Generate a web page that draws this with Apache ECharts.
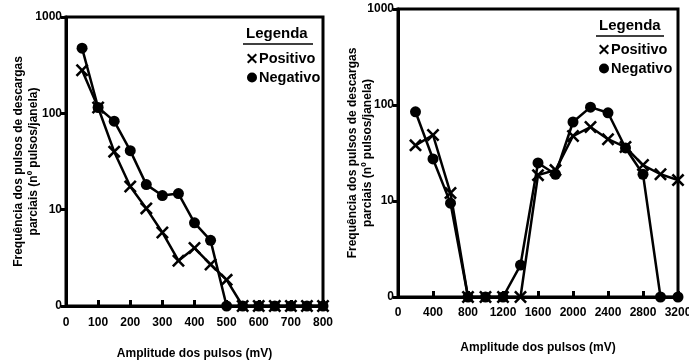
<!DOCTYPE html>
<html>
<head>
<meta charset="utf-8">
<script src="https://cdn.jsdelivr.net/npm/echarts@6/dist/echarts.min.js"></script>
<style>
  html, body { margin: 0; padding: 0; background: #fff; }
  #chart { width: 689px; height: 362px; }
</style>
</head>
<body>
<div id="chart"></div>
<script>
// painel esquerdo (0-800 mV)
var ampEsq = [50, 100, 150, 200, 250, 300, 350, 400, 450, 500, 550, 600, 650, 700, 750, 800];
var posEsq = [280, 115, 40, 17.4, 10.3, 5.8, 2.95, 4.0, 2.7, 1.87, 0, 0, 0, 0, 0, 0];
var negEsq = [475, 115, 83, 41, 18.2, 14, 14.7, 7.3, 4.8, 0, 0, 0, 0, 0, 0, 0];

// painel direito (0-3200 mV)
var ampDir = [200, 400, 600, 800, 1000, 1200, 1400, 1600, 1800, 2000, 2200, 2400, 2600, 2800, 3000, 3200];
var posDir = [38, 48.7, 12.1, 0, 0, 0, 0, 18.6, 21, 47.5, 59, 44, 36.5, 23.7, 19, 16.5];
var negDir = [85, 27.4, 9.5, 0, 0, 0, 2.15, 24.9, 19, 66.5, 95, 83, 35.7, 19, 0, 0];

var yTicks = [1, 10, 100, 1000];

var FONT = '"Liberation Sans", Arial, sans-serif';
var xSym = 'path://M0,1.4 L1.4,0 L5,3.6 L8.6,0 L10,1.4 L6.4,5 L10,8.6 L8.6,10 L5,6.4 L1.4,10 L0,8.6 L3.6,5 Z';

// zero desenhado na base da escala log (rotulada "0")
function pares(xs, ys) {
  return xs.map(function (x, i) { return [x, ys[i] === 0 ? 1 : ys[i]]; });
}

function eixoY(idx, gap) {
  return {
    type: 'log', gridIndex: idx, logBase: 10, min: 1, max: 1000,
    name: 'Frequência dos pulsos de descargas\nparciais (nº pulsos/janela)',
    nameLocation: 'middle', nameGap: gap, nameRotate: 90, nameMoveOverlap: false,
    nameTextStyle: { fontFamily: FONT, fontWeight: 'bold', fontSize: 12, color: '#000', lineHeight: 15 },
    axisLine: { show: true, lineStyle: { color: '#000', width: 3 } },
    axisTick: { show: true, inside: false, length: 5, lineStyle: { color: '#000', width: 3 } },
    minorTick: { show: false },
    splitLine: { show: false },
    axisLabel: {
      fontFamily: FONT, fontWeight: 'bold', fontSize: 12, color: '#000', margin: 4,
      formatter: function (v) { return v === yTicks[0] ? '0' : String(v); }
    }
  };
}

function eixoX(idx, max, intervalo, gap, margem) {
  return {
    type: 'value', gridIndex: idx, min: 0, max: max, interval: intervalo,
    name: 'Amplitude dos pulsos (mV)', nameLocation: 'middle', nameGap: gap, nameMoveOverlap: false,
    nameTextStyle: { fontFamily: FONT, fontWeight: 'bold', fontSize: 12, color: '#000' },
    axisLine: { show: true, onZero: false, lineStyle: { color: '#000', width: 3 } },
    axisTick: { show: true, inside: true, length: 6, lineStyle: { color: '#000', width: 3 } },
    splitLine: { show: false },
    axisLabel: {
      fontFamily: FONT, fontWeight: 'bold', fontSize: 12, color: '#000', margin: margem, showMaxLabel: true,
      formatter: function (v) { return String(v); }
    }
  };
}

function serie(nome, idx, dados) {
  var pos = nome === 'Positivo';
  return {
    name: nome, type: 'line', xAxisIndex: idx, yAxisIndex: idx,
    data: dados,
    symbol: pos ? xSym : 'circle',
    symbolSize: pos ? 13 : 11,
    lineStyle: { color: '#000', width: 2.5 },
    itemStyle: { color: '#000' },
    clip: false,
    animation: false
  };
}

function legenda(left, top) {
  return {
    orient: 'vertical', left: left, top: top, itemGap: 4,
    itemWidth: 10, itemHeight: 10, selectedMode: false,
    textStyle: { fontFamily: FONT, fontWeight: 'bold', fontSize: 14.5, color: '#000', padding: [0, 0, 0, -3] },
    data: [{ name: 'Positivo', icon: xSym }, { name: 'Negativo', icon: 'circle' }]
  };
}

var chart = echarts.init(document.getElementById('chart'), null, { renderer: 'canvas' });
chart.setOption({
  backgroundColor: '#fff',
  animation: false,
  grid: [
    { left: 66, right: 366, top: 17, bottom: 56, show: true, borderColor: '#000', borderWidth: 3, outerBoundsMode: 'none', containLabel: false },
    { left: 398, right: 11, top: 9, bottom: 65, show: true, borderColor: '#000', borderWidth: 3, outerBoundsMode: 'none', containLabel: false }
  ],
  xAxis: [eixoX(0, 800, 100, 42, 11), eixoX(1, 3200, 400, 45, 10)],
  yAxis: [eixoY(0, 25), eixoY(1, 23)],
  legend: [legenda(242, 46), legenda(594, 37)],
  graphic: [
    { type: 'text', left: 246, top: 26, style: { text: 'Legenda', fontFamily: FONT, fontWeight: 'bold', fontSize: 15, fill: '#000' } },
    { type: 'line', shape: { x1: 243, y1: 44, x2: 313, y2: 44 }, style: { stroke: '#000', lineWidth: 1.5 } },
    { type: 'text', left: 599, top: 18, style: { text: 'Legenda', fontFamily: FONT, fontWeight: 'bold', fontSize: 15, fill: '#000' } },
    { type: 'line', shape: { x1: 596, y1: 36, x2: 664, y2: 36 }, style: { stroke: '#000', lineWidth: 1.5 } }
  ],
  series: [
    serie('Positivo', 0, pares(ampEsq, posEsq)),
    serie('Negativo', 0, pares(ampEsq, negEsq)),
    serie('Positivo', 1, pares(ampDir, posDir)),
    serie('Negativo', 1, pares(ampDir, negDir))
  ]
});
</script>
</body>
</html>
